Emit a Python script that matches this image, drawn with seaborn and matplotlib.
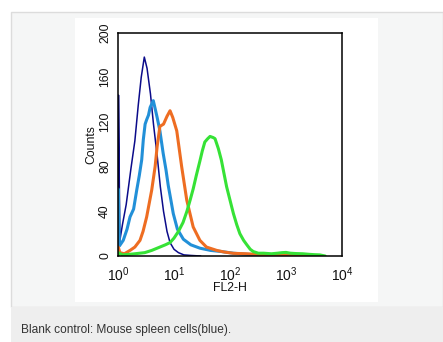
import matplotlib
matplotlib.use("Agg")
import matplotlib.pyplot as plt
import seaborn as sns
import pandas as pd
from matplotlib.patches import Rectangle
from matplotlib.ticker import MultipleLocator, LogLocator, NullFormatter, FixedLocator

# ---------------- data ----------------
navy_x = [1.02, 1.02, 1.08, 1.2, 1.4, 1.7, 2.0, 2.3, 2.6, 2.95, 3.3, 3.8, 4.3, 5.0,
          5.7, 6.5, 7.5, 8.5, 10, 12, 15, 20, 30]
navy_y = [0, 144, 14, 28, 46, 78, 103, 135, 160, 178, 168, 145, 118, 90,
          62, 40, 22, 12, 6, 3, 1, 0.5, 0]

lblue_x = [1.01, 1.01, 1.06, 1.24, 1.45, 1.64, 1.9, 2.16, 2.4, 2.65, 2.83, 3.05, 3.25,
           3.5, 3.75, 4.0, 4.27, 4.6, 5.0, 5.6, 6.4, 7.2, 7.9, 8.8, 9.7, 11.5,
           14.7, 20, 29, 45, 70, 115, 200, 345, 600, 1000, 2000, 4000]
lblue_y = [0, 60, 9, 14, 24, 35, 42, 59, 72, 86, 104, 118, 122,
           126, 133, 136, 139, 132, 124, 112, 92, 77, 63, 50, 38, 24,
           15, 10, 7, 5, 4, 2.5, 1.5, 1, 0.8, 0.5, 0.4, 0.2]

orange_x = [1.01, 1.01, 1.08, 1.3, 1.64, 2.0, 2.47, 2.8, 3.25, 3.7, 4.0, 4.6, 5.0,
            5.6, 6.5, 7.5, 8.5, 9.5, 11.2, 13.7, 16.9, 22, 29, 38, 58, 80,
            115, 200, 300, 500, 1000, 3000]
orange_y = [0, 8, 3, 2, 5, 8, 14, 22, 35, 50, 59, 80, 98,
            116, 118, 125, 130, 124, 112, 80, 50, 26, 14, 8, 5, 3.5,
            2.4, 2, 1.5, 0.8, 0.4, 0.2]

green_x = [1.01, 1.01, 1.2, 1.6, 2.0, 3.0, 4.0, 5.6, 7.0, 8.5, 10, 12, 14.5, 17,
           19.4, 22, 25, 29, 32, 35.5, 40, 44, 50, 54, 62, 70, 78, 87, 100,
           115, 132, 150, 175, 200, 230, 260, 320, 400, 550, 700, 850, 1000,
           1200, 1500, 2000, 2600, 3200, 4000, 5000]
green_y = [0, 3, 1, 1.5, 2, 3, 5, 8, 10, 12, 16, 22, 30, 40,
           50, 60, 72, 85, 94, 102, 105, 107, 106, 105, 96, 86, 74, 62, 50,
           38, 28, 20, 14, 10, 6, 4, 2.5, 2.5, 2, 2.5, 3, 3.2,
           2.5, 2.2, 2, 1.5, 1.2, 1, 0]

series = [
    ("navy", navy_x, navy_y, "#0b0b8a", 1.1),
    ("lightblue", lblue_x, lblue_y, "#2290d8", 2.2),
    ("orange", orange_x, orange_y, "#ee6d22", 2.2),
    ("green", green_x, green_y, "#36e236", 2.2),
]

x_ticks = [1, 10, 100, 1000, 10000]
x_ticklabels = ["$10^{0}$", "$10^{1}$", "$10^{2}$", "$10^{3}$", "$10^{4}$"]
y_ticks = [0, 40, 80, 120, 160, 200]

# ---------------- style ----------------
sns.set_style("white")
plt.rcParams["font.family"] = ["Liberation Sans", "DejaVu Sans"]
plt.rcParams["mathtext.fontset"] = "custom"
plt.rcParams["mathtext.rm"] = "Liberation Sans"
plt.rcParams["mathtext.it"] = "Liberation Sans:italic"
plt.rcParams["mathtext.bf"] = "Liberation Sans:bold"

W, H = 443, 342
fig = plt.figure(figsize=(W / 100, H / 100), dpi=100, facecolor="white")


def box(x0, y0, x1, y1, **kw):
    fig.patches.append(Rectangle((x0 / W, 1 - y1 / H), (x1 - x0) / W, (y1 - y0) / H,
                                 transform=fig.transFigure, figure=fig, **kw))


box(11, 12, 443, 307, facecolor="#f5f6f6", edgecolor="#dcdcdc", linewidth=1.0, zorder=-3)
box(11, 307, 443, 342, facecolor="#eeeeee", edgecolor="none", zorder=-2)
box(75, 18, 378, 302, facecolor="white", edgecolor="none", zorder=-1)

ax = fig.add_axes([118 / W, 1 - 256 / H, (342 - 118) / W, (256 - 32.5) / H])
ax.set_facecolor("white")
ax.set_zorder(1)

for name, xs, ys, col, lw in series:
    df = pd.DataFrame({"FL2-H": xs, "Counts": ys})
    sns.lineplot(data=df, x="FL2-H", y="Counts", ax=ax, color=col, linewidth=lw,
                 sort=False, estimator=None, legend=False)

ax.set_xscale("log")
ax.set_xlim(1, 10000)
ax.set_ylim(0, 200)

ax.xaxis.set_major_locator(FixedLocator(x_ticks))
ax.set_xticklabels(x_ticklabels)
ax.xaxis.set_minor_locator(LogLocator(base=10, subs=range(2, 10)))
ax.xaxis.set_minor_formatter(NullFormatter())
ax.set_yticks(y_ticks)
ax.yaxis.set_minor_locator(MultipleLocator(10))

for s in ax.spines.values():
    s.set_visible(True)
    s.set_color("black")
    s.set_linewidth(1.1)

ax.tick_params(axis="both", which="major", direction="out", length=4.5, width=1,
               color="black", labelcolor="#111111")
ax.tick_params(axis="both", which="minor", direction="out", length=3, width=0.8,
               color="black")
ax.tick_params(axis="x", which="major", pad=2, labelsize=10)
ax.tick_params(axis="y", which="major", labelrotation=90, pad=0.5, labelsize=8.8)
for lab in ax.get_yticklabels():
    lab.set_va("center")

ax.set_xlabel("FL2-H", fontsize=8.8, labelpad=-1, color="#111111")
ax.set_ylabel("Counts", fontsize=8.8, labelpad=1.5, color="#111111")

fig.text(21 / W, 1 - 330 / H, "Blank control: Mouse spleen cells(blue).",
         fontsize=8.6, color="#333333", va="center", ha="left")

fig.savefig("out.png", dpi=100, facecolor="white")
